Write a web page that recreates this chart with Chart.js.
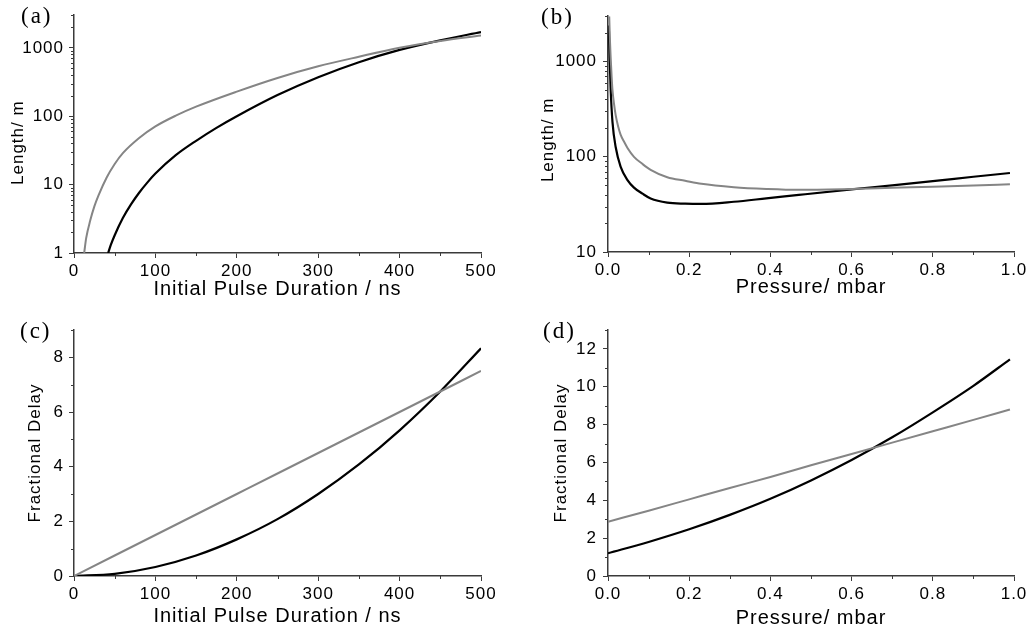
<!DOCTYPE html>
<html>
<head>
<meta charset="utf-8">
<script src="https://cdn.jsdelivr.net/npm/chart.js@4.4.1/dist/chart.umd.min.js"></script>
<style>
  body { margin: 0; background: #fff; }
  #wrap { position: relative; width: 1034px; height: 632px; overflow: hidden; background: #fff; }
  canvas { position: absolute; }
  .lbl { position: absolute; font-family: "Liberation Serif", "Times New Roman", serif; font-size: 23px; line-height: 22px; letter-spacing: 2px; color: #000; }
</style>
</head>
<body>
<div id="wrap">
  <canvas id="chartA" width="517" height="310" style="left:0;top:0"></canvas>
  <canvas id="chartB" width="517" height="310" style="left:517px;top:0"></canvas>
  <canvas id="chartC" width="517" height="322" style="left:0;top:310px"></canvas>
  <canvas id="chartD" width="517" height="322" style="left:517px;top:310px"></canvas>
  <div class="lbl" style="left:21px;top:5px">(a)</div>
  <div class="lbl" style="left:541px;top:6px">(b)</div>
  <div class="lbl" style="left:20px;top:320px">(c)</div>
  <div class="lbl" style="left:543px;top:320px">(d)</div>
</div>
<script>
// (a) length vs initial pulse duration (log y)
const durGreyA = [12.5, 15, 20, 25, 30, 40, 50, 60, 80, 100, 125, 150, 200, 250, 300, 350, 400, 450, 500];
const lenGreyA = [1, 1.66, 3.0, 4.8, 6.9, 12.6, 20, 28.8, 48, 71, 102, 138, 229, 363, 537, 741, 1000, 1259, 1514];
const durBlackA = [42, 45, 50, 60, 70, 80, 90, 100, 125, 150, 175, 200, 250, 300, 350, 400, 450, 500];
const lenBlackA = [1, 1.29, 1.82, 3.24, 5.13, 7.6, 10.7, 14.5, 26.9, 43.7, 67.6, 100, 204, 372, 617, 933, 1288, 1698];

// (b) length vs pressure (log y)
const presGreyB = [0.003, 0.0045, 0.0066, 0.009, 0.011, 0.015, 0.019, 0.025, 0.031, 0.04, 0.048, 0.064, 0.085, 0.105, 0.146, 0.19, 0.23, 0.31, 0.39, 0.47, 0.6, 0.7, 0.8, 0.9, 0.99];
const lenGreyB = [3000, 1800, 1100, 690, 506, 355, 272, 208, 171, 143, 124, 100, 84, 73, 61, 56, 52, 48, 46, 45, 46, 47.3, 48.6, 50, 51.5];
const presBlackB = [0.002, 0.004, 0.0066, 0.011, 0.019, 0.031, 0.048, 0.064, 0.085, 0.105, 0.146, 0.19, 0.23, 0.31, 0.39, 0.47, 0.6, 0.7, 0.8, 0.9, 0.99];
const lenBlackB = [2400, 1100, 506, 233, 126, 79, 57, 47.5, 41, 36.5, 33, 32.2, 32, 33.7, 36.6, 39.8, 45.5, 50.2, 55.6, 61.7, 67.6];

// (c) fractional delay vs initial pulse duration
const durC = [0, 50, 100, 150, 200, 250, 300, 350, 400, 450, 500];
const delayGreyC = [0, 0.75, 1.5, 2.25, 3.0, 3.75, 4.5, 5.25, 6.0, 6.75, 7.5];
const delayBlackC = [0, 0.08, 0.33, 0.75, 1.34, 2.08, 3.0, 4.08, 5.33, 6.75, 8.33];

// (d) fractional delay vs pressure
const presD = [0, 0.1, 0.2, 0.3, 0.4, 0.5, 0.6, 0.7, 0.8, 0.9, 0.99];
const delayGreyD = [2.87, 3.45, 4.05, 4.65, 5.23, 5.85, 6.45, 7.05, 7.65, 8.25, 8.8];
const delayBlackD = [1.2, 1.8, 2.47, 3.23, 4.08, 5.05, 6.13, 7.33, 8.65, 10.05, 11.45];

// tick values
const durMajor = [0, 100, 200, 300, 400, 500];
const durMinor = [50, 150, 250, 350, 450];
const presMajor = [0, 0.2, 0.4, 0.6, 0.8, 1.0];
const presMinor = [0.1, 0.3, 0.5, 0.7, 0.9];
const lenMajorA = [1, 10, 100, 1000];
const lenMajorB = [10, 100, 1000];
const delayMajorC = [0, 2, 4, 6, 8];
const delayMinorC = [1, 3, 5, 7, 9];
const delayMajorD = [0, 2, 4, 6, 8, 10, 12];
const delayMinorD = [1, 3, 5, 7, 9, 11, 13];

function logMinor(from, to) {
    const out = [];
    for (let d = from; d < to; d *= 10) {
        for (let k = 2; k <= 9; k++) if (k * d <= to) out.push(k * d);
    }
    return out;
}

const BLACK = '#000000';
const GREY = '#858585';
const AXIS = '#3a3a3a';
const SANS = '"Liberation Sans", Arial, sans-serif';

const minorTicks = {
    id: 'minorTicks',
    beforeDraw(chart) {
        chart.ctx.letterSpacing = '1px';
    },
    afterDraw(chart, args, opts) {
        const { ctx, chartArea, scales } = chart;
        ctx.save();
        ctx.strokeStyle = AXIS;
        ctx.lineWidth = 1;
        ctx.beginPath();
        (opts.x || []).forEach(v => {
            const px = Math.round(scales.x.getPixelForValue(v)) + 0.5;
            ctx.moveTo(px, chartArea.bottom);
            ctx.lineTo(px, chartArea.bottom + 3);
        });
        (opts.y || []).forEach(v => {
            const py = Math.round(scales.y.getPixelForValue(v)) + 0.5;
            ctx.moveTo(chartArea.left, py);
            ctx.lineTo(chartArea.left - 3, py);
        });
        ctx.stroke();
        ctx.restore();
    }
};

function makePanel(id, cfg) {
    const datasets = cfg.series.map(s => ({
        data: s.xs.map((x, i) => ({ x: x, y: s.ys[i] })),
        showLine: true,
        borderColor: s.color,
        borderWidth: s.width,
        pointRadius: 0,
        fill: false,
        cubicInterpolationMode: 'monotone'
    }));
    return new Chart(document.getElementById(id), {
        type: 'scatter',
        data: { datasets },
        options: {
            responsive: false,
            animation: false,
            events: [],
            layout: { padding: cfg.padding },
            plugins: {
                legend: { display: false },
                tooltip: { enabled: false },
                minorTicks: { x: cfg.xMinor, y: cfg.yMinor }
            },
            scales: {
                x: {
                    type: 'linear',
                    min: cfg.xMin, max: cfg.xMax,
                    afterBuildTicks: s => { s.ticks = cfg.xMajor.map(v => ({ value: v })); },
                    afterFit: s => { s.height = cfg.xAxisH; },
                    border: { display: true, color: AXIS, width: 1.5 },
                    grid: { display: true, drawOnChartArea: false, drawTicks: true, tickLength: 5, tickColor: AXIS, tickWidth: 1 },
                    ticks: { color: '#000', font: { family: SANS, size: 17 }, padding: 3, maxRotation: 0, autoSkip: false, callback: cfg.xFmt },
                    title: { display: true, text: cfg.xTitle, color: '#000', font: { family: SANS, size: 20 }, padding: { top: 0, bottom: cfg.xTitlePad } }
                },
                y: {
                    type: cfg.yType,
                    min: cfg.yMin, max: cfg.yMax,
                    afterBuildTicks: s => { s.ticks = cfg.yMajor.map(v => ({ value: v })); },
                    afterFit: s => { s.width = cfg.yAxisW; },
                    border: { display: true, color: AXIS, width: 1.5 },
                    grid: { display: true, drawOnChartArea: false, drawTicks: true, tickLength: 5, tickColor: AXIS, tickWidth: 1 },
                    ticks: { color: '#000', font: { family: SANS, size: 17 }, padding: cfg.yTickPad, autoSkip: false, callback: v => String(v) },
                    title: { display: true, text: cfg.yTitle, color: '#000', font: { family: SANS, size: 17 }, padding: { top: cfg.yTitlePad, bottom: 0 } }
                }
            }
        },
        plugins: [minorTicks]
    });
}

const intFmt = v => String(v);
const decFmt = v => Number(v).toFixed(1);

makePanel('chartA', {
    series: [
        { xs: durGreyA, ys: lenGreyA, color: GREY, width: 2 },
        { xs: durBlackA, ys: lenBlackA, color: BLACK, width: 2.2 }
    ],
    padding: { left: 0, top: 6, right: 36, bottom: 0 },
    xMin: 0, xMax: 500, xMajor: durMajor, xMinor: durMinor, xFmt: intFmt, xAxisH: 57,
    xTitle: 'Initial Pulse Duration / ns', xTitlePad: 9,
    yType: 'logarithmic', yMin: 1, yMax: 3000, yMajor: lenMajorA, yMinor: logMinor(1, 3000),
    yAxisW: 74, yTickPad: 5, yTitle: 'Length/ m   ', yTitlePad: 8
});

makePanel('chartB', {
    series: [
        { xs: presGreyB, ys: lenGreyB, color: GREY, width: 2 },
        { xs: presBlackB, ys: lenBlackB, color: BLACK, width: 2.2 }
    ],
    padding: { left: 0, top: 6, right: 20, bottom: 0 },
    xMin: 0, xMax: 1, xMajor: presMajor, xMinor: presMinor, xFmt: decFmt, xAxisH: 58,
    xTitle: 'Pressure/ mbar', xTitlePad: 11,
    yType: 'logarithmic', yMin: 10, yMax: 3000, yMajor: lenMajorB, yMinor: logMinor(10, 3000),
    yAxisW: 91, yTickPad: 6, yTitle: 'Length/ m  ', yTitlePad: 21
});

makePanel('chartC', {
    series: [
        { xs: durC, ys: delayGreyC, color: GREY, width: 2 },
        { xs: durC, ys: delayBlackC, color: BLACK, width: 2.2 }
    ],
    padding: { left: 0, top: 20, right: 36, bottom: 0 },
    xMin: 0, xMax: 500, xMajor: durMajor, xMinor: durMinor, xFmt: intFmt, xAxisH: 56,
    xTitle: 'Initial Pulse Duration / ns', xTitlePad: 4,
    yType: 'linear', yMin: 0, yMax: 9, yMajor: delayMajorC, yMinor: delayMinorC,
    yAxisW: 74, yTickPad: 5, yTitle: 'Fractional Delay', yTitlePad: 25
});

makePanel('chartD', {
    series: [
        { xs: presD, ys: delayGreyD, color: GREY, width: 2 },
        { xs: presD, ys: delayBlackD, color: BLACK, width: 2.2 }
    ],
    padding: { left: 0, top: 20, right: 20, bottom: 0 },
    xMin: 0, xMax: 1, xMajor: presMajor, xMinor: presMinor, xFmt: decFmt, xAxisH: 56,
    xTitle: 'Pressure/ mbar', xTitlePad: 2,
    yType: 'linear', yMin: 0, yMax: 13, yMajor: delayMajorD, yMinor: delayMinorD,
    yAxisW: 91, yTickPad: 6, yTitle: 'Fractional Delay', yTitlePad: 34
});
</script>
</body>
</html>
